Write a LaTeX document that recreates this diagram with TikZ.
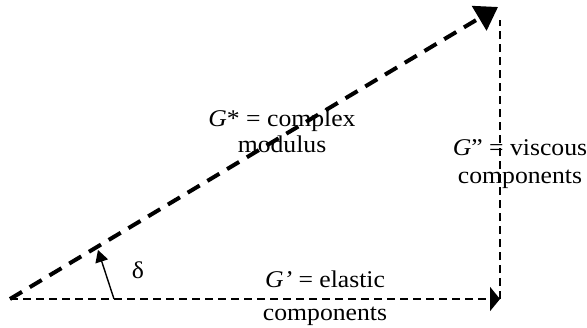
\documentclass[tikz,border=0pt]{standalone}
\usepackage{fontspec}
\setmainfont[FakeStretch=1.07]{Liberation Serif}
\usepackage{tikz}
\usetikzlibrary{arrows.meta}

\begin{document}
\begin{tikzpicture}[x=0.5pt,y=-0.5pt,>=Triangle,
		modulus/.style={line width=2pt,dash pattern=on 7pt off 4.5pt,-{Triangle[length=11pt,width=14pt]}},
		component/.style={line width=1pt,dash pattern=on 4pt off 2.5pt},
		lbl/.style={font=\fontsize{12}{12}\selectfont,align=center,inner sep=0pt}]
		\useasboundingbox (0,0) rectangle (587,327);
		
		% Corners of the triangle
		\coordinate (O) at (10,299);
		\coordinate (A) at (500,299);
		\coordinate (T) at (500,20);
		\coordinate (P) at (498,7);
		
		% Sides
		\draw[component,-{Triangle[length=5pt,width=12pt]}] (O) -- (A);
		\draw[component] (A) -- (T);
		\draw[modulus] (O) -- (P);
		
		% Phase angle
		\coordinate (d0) at (114,299);
		\coordinate (d1) at (98,250);
		\draw[line width=0.7pt,-{Triangle[length=6pt,width=6.5pt]}] (d0) -- (d1);
		\node[lbl] (delta) at (138,270) {δ};
		
		% Labels (anchored at the baseline of the last line)
		\node[lbl,anchor=base] (gstar) at (282,152) {\textit{G}* = complex\\[1pt]modulus};
		\node[lbl,anchor=base] (gvisc) at (520,183) {\textit{G}” = viscous\\[2pt]components};
		\node[lbl,anchor=base] (gelas) at (325,320) {\textit{G’} = elastic\\[4.5pt]components};
	\end{tikzpicture}
\end{document}
